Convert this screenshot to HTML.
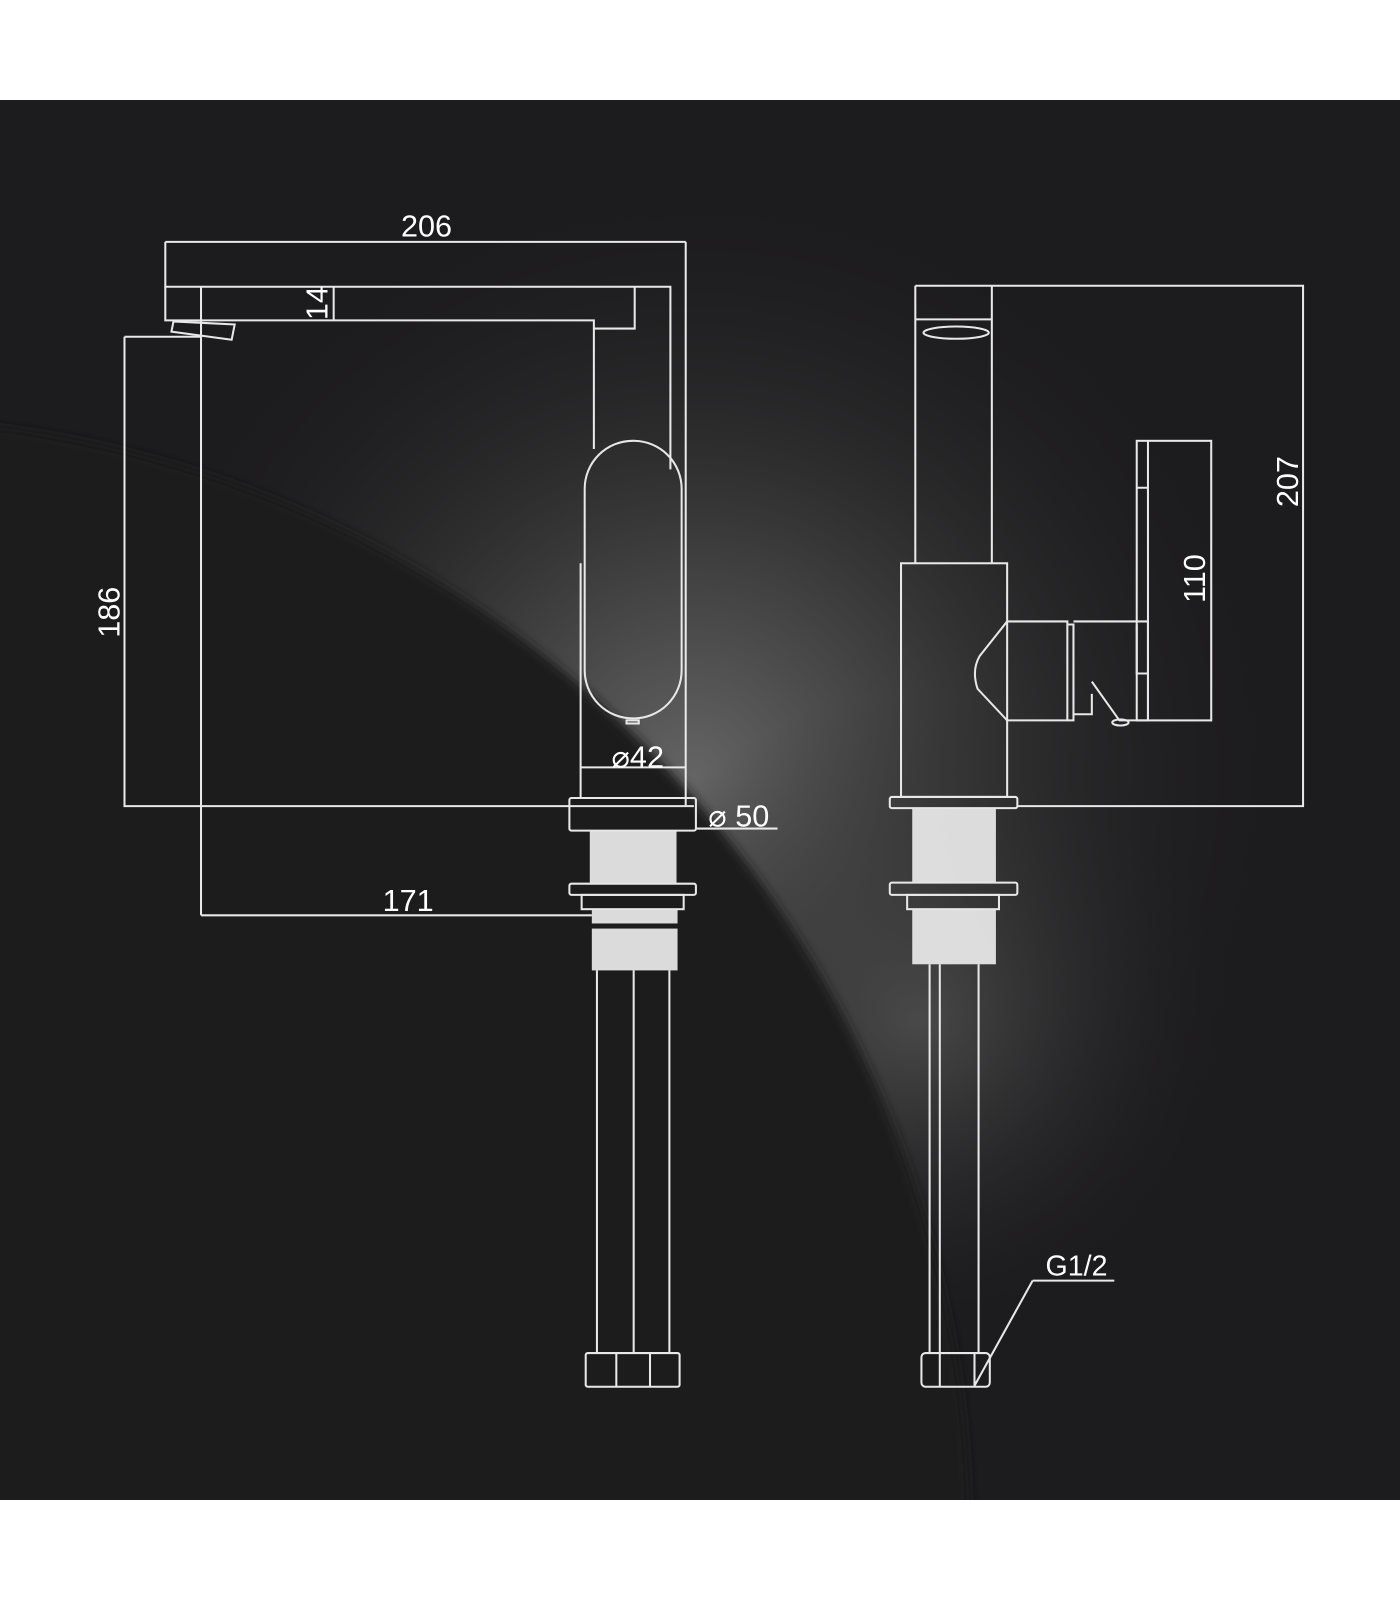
<!DOCTYPE html>
<html><head><meta charset="utf-8"><style>html,body{margin:0;padding:0;background:#fff;width:1400px;height:1600px;overflow:hidden}svg{display:block}</style></head><body>
<svg width="1400" height="1600" viewBox="0 0 1372 1568" xmlns="http://www.w3.org/2000/svg">
<defs>
<radialGradient id="g1" cx="680" cy="760" r="600" gradientUnits="userSpaceOnUse">
<stop offset="0" stop-color="#646464"/><stop offset="0.4" stop-color="#3a3a3a"/><stop offset="1" stop-color="#1c1b1d" stop-opacity="0"/></radialGradient>
<radialGradient id="g2" cx="900" cy="1000" r="320" gradientUnits="userSpaceOnUse">
<stop offset="0" stop-color="#555" stop-opacity="0.7"/><stop offset="1" stop-color="#1c1b1d" stop-opacity="0"/></radialGradient>
<filter id="bl"><feGaussianBlur stdDeviation="5"/></filter>
<clipPath id="cp"><rect x="0" y="98" width="1372" height="1372"/></clipPath>
</defs>
<rect x="0" y="98" width="1372" height="1372" fill="#1c1b1d"/>
<g clip-path="url(#cp)">
<rect x="0" y="98" width="1372" height="1372" fill="url(#g1)"/>
<rect x="0" y="98" width="1372" height="1372" fill="url(#g2)"/>
<circle cx="-140" cy="1500" r="1090" fill="#1c1b1d" filter="url(#bl)"/>
</g>
<g fill="none" stroke="#e8e8e8" stroke-width="2">
<path d="M162 237H672M162 237V282M672 237V790"/>
<path d="M162 281H657V460M162 281V314H582V440M622 281V322H582"/>
<path d="M197 281V897"/>
<path d="M327 281V314"/>
<path d="M170 315L230 318L227 333L168 325Z"/>
<path d="M122 330H197M122 330V790H680"/>
<path d="M569 552V782"/>
<rect x="573" y="432" width="95" height="272" rx="47"/>
<path d="M614 706h12v3h-12z"/>
<path d="M569 752H672"/>
<rect x="558" y="782" width="124" height="32" rx="2"/>
<path d="M682 812H762"/>
<path d="M197 897H580"/>
<rect x="558" y="866" width="124" height="11" rx="2"/>
<rect x="570" y="877" width="100" height="14"/>
<path d="M585 951V1326M621 951V1326M656 951V1326"/>
<rect x="574" y="1326" width="92" height="33" rx="2"/>
<path d="M604 1326V1359M637 1326V1359"/>
<path d="M897 280H1277V790H997M897 280V552M972 280V552M897 313H972"/>
<ellipse cx="937" cy="326" rx="32" ry="6"/>
<rect x="883" y="552" width="104" height="229"/>
<rect x="872" y="781" width="125" height="11" rx="2"/>
<rect x="872" y="865" width="125" height="12" rx="2"/>
<rect x="889" y="877" width="90" height="14"/>
<path d="M911 945V1326M921 945V1326M959 945V1326"/>
<rect x="903" y="1326" width="67" height="33" rx="4"/>
<path d="M921 1326V1359M955 1326V1359"/>
<path d="M987 609H1046V706H987L958 675Q952 657 960 643Z"/>
<path d="M1046 612H1052V706H1046"/>
<path d="M1052 609H1125V706H1097L1070 668M1052 700H1070V680"/>
<rect x="1114" y="432" width="73" height="274"/>
<path d="M1125 432V706M1114 478H1125M1114 612V660H1125"/>
<ellipse cx="1098" cy="708" rx="8" ry="3"/>
<path d="M1012 1255H1092M1012 1255L955 1358"/>
</g>
<g fill="#e6e6e6" opacity="0.95">
<rect x="578" y="814" width="85" height="52"/>
<rect x="580" y="891" width="84" height="14"/>
<rect x="580" y="910" width="84" height="41"/>
<rect x="894" y="792" width="82" height="73"/>
<rect x="894" y="891" width="82" height="54"/>
</g>
<g fill="#fff" font-family="Liberation Sans, sans-serif" font-size="30">
<text x="418" y="232" text-anchor="middle">206</text>
<text transform="translate(321 297) rotate(-90)" text-anchor="middle">14</text>
<text transform="translate(117 600) rotate(-90)" text-anchor="middle">186</text>
<text x="400" y="893" text-anchor="middle">171</text>
<text x="625" y="752" text-anchor="middle">⌀42</text>
<text x="724" y="810" text-anchor="middle">⌀ 50</text>
<text transform="translate(1272 472) rotate(-90)" text-anchor="middle">207</text>
<text transform="translate(1181 567) rotate(-90)" text-anchor="middle">110</text>
<text x="1055" y="1250" text-anchor="middle" font-size="28">G1/2</text>
</g>
</svg>
</body></html>
